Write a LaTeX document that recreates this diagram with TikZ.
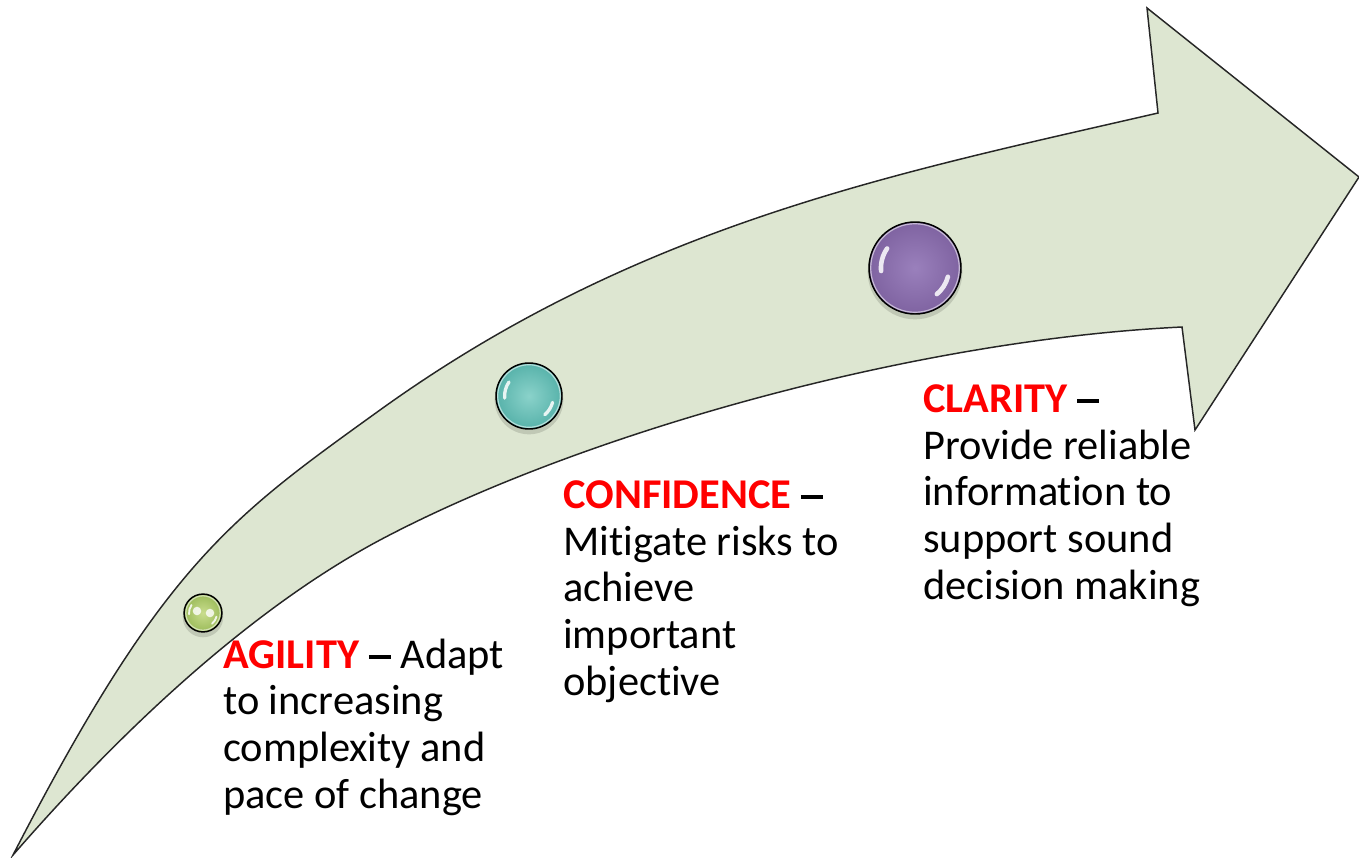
\documentclass[tikz,border=0pt]{standalone}
\usepackage{fontspec}
\setmainfont[Ligatures=NoCommon]{Carlito}
\usetikzlibrary{calc}
\definecolor{arrowfill}{HTML}{DDE6D1}
\definecolor{keyred}{HTML}{FF0000}
\definecolor{greenbase}{HTML}{9BBB59}
\definecolor{greenlight}{HTML}{C9DD8E}
\definecolor{tealbase}{HTML}{57B2AA}
\definecolor{teallight}{HTML}{8AD2CA}
\definecolor{purplebase}{HTML}{7F63A1}
\definecolor{purplelight}{HTML}{9A80BC}
\newcommand\kw[1]{\textcolor{keyred}{\textbf{#1}} \rule[7pt]{16.5pt}{2.7pt}}
\newcommand\glossball[5]{%
  \fill[black, opacity=0.13] ($#2+(0,4)$) circle[radius=#3pt+1pt];
  \node[ballnode, minimum size=2*#3pt,
    path picture={
      \shade[inner color=#5, outer color=#4] (path picture bounding box.center) circle[radius=#3pt];
      \draw[white, opacity=0.55, line width=0.9pt] (path picture bounding box.center) circle[radius=#3pt-1.3pt];
      \draw[white, opacity=0.85, line width=0.10*#3pt, line cap=round]
        ($(path picture bounding box.center)+(145:0.74*#3pt)$) arc[start angle=145, end angle=185, radius=0.74*#3pt];
      \draw[white, opacity=0.85, line width=0.10*#3pt, line cap=round]
        ($(path picture bounding box.center)+(-15:0.74*#3pt)$) arc[start angle=-15, end angle=-50, radius=0.74*#3pt];
    }] (#1) at #2 {};}
\tikzset{
  arrowline/.style={draw=black!85, line width=1.1pt, line join=miter},
  ballnode/.style={circle, draw=black, line width=1.1pt, inner sep=0pt},
  lbl/.style={anchor=base west, align=left, inner sep=0pt, text=black,
    font=\fontsize{31.8}{35}\selectfont},
}
\begin{document}
\begin{tikzpicture}[x=0.75pt,y=-0.75pt]
\useasboundingbox (0,0) rectangle (1359,857);
% big curved arrow
\draw[arrowline, fill=arrowfill]
  (13,855) .. controls (163,564) and (230,518) .. (380,410)
  .. controls (640,223) and (898,173) .. (1158,113)
  -- (1147,8) -- (1359,177) -- (1195,430) -- (1182,327)
  .. controls (912,340) and (580,434) .. (380,540)
  .. controls (260,604) and (133,717) .. (13,855)
  -- cycle;
% glossy balls
\glossball{ballA}{(203,613)}{14.2}{greenbase}{greenlight}
\fill[white, opacity=0.8] (197,611) circle[radius=3.2pt];
\fill[white, opacity=0.8] (210,613) circle[radius=3.2pt];
\glossball{ballB}{(529,396)}{24.75}{tealbase}{teallight}
\glossball{ballC}{(915,268)}{34.5}{purplebase}{purplelight}
% labels (anchored at the baseline of the last line)
\node[lbl] (agility) at (223,808) {\kw{AGILITY} Adapt\\to increasing\\complexity and\\pace of change};
\node[lbl] (confidence) at (563,695) {\kw{CONFIDENCE}\\Mitigate risks to\\achieve\\important\\objective};
\node[lbl] (clarity) at (923,599) {\kw{CLARITY}\\Provide reliable\\information to\\support sound\\decision making};
\end{tikzpicture}
\end{document}
